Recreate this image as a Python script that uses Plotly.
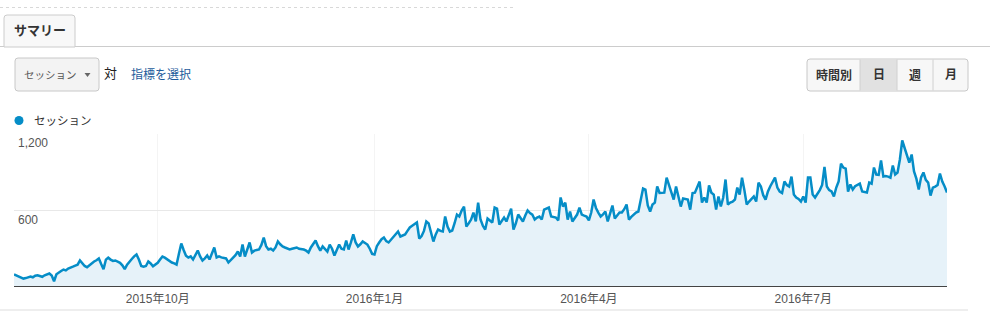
import pandas as pd
import plotly.graph_objects as go

# ---------------- data (daily sessions, 2015-08-01 .. 2016-08-31) ----------------
aug15 = [98, 90, 80, 72, 66, 70, 78, 82, 76, 88, 92, 85, 80, 92, 100, 106, 90, 45, 100, 115,
         125, 137, 130, 145, 150, 160, 168, 175, 208, 185, 165]
sep15 = [155, 170, 190, 200, 210, 224, 180, 140, 215, 230, 215, 205, 208, 200, 190, 170, 140, 175, 200, 220,
         240, 255, 215, 165, 160, 165, 200, 185, 162, 175]
oct15 = [190, 215, 239, 230, 215, 205, 192, 185, 176, 260, 341, 290, 245, 231, 240, 216, 250, 286, 240, 208,
         225, 247, 216, 265, 310, 231, 240, 232, 228, 224, 192]
nov15 = [215, 231, 250, 278, 240, 333, 239, 290, 349, 270, 285, 290, 294, 330, 388, 320, 294, 300, 286, 310,
         357, 335, 318, 310, 302, 295, 300, 305, 310, 300]
dec15 = [298, 294, 285, 270, 310, 341, 365, 320, 286, 318, 300, 278, 333, 300, 247, 290, 333, 300, 294, 365,
         294, 350, 412, 350, 318, 335, 357, 345, 333, 300, 260]
jan16 = [255, 320, 349, 375, 388, 360, 349, 370, 388, 410, 435, 396, 405, 412, 440, 467, 480, 495, 506, 380,
         400, 440, 514, 498, 420, 357, 412, 451, 440, 435, 553]
feb16 = [474, 435, 443, 500, 568, 553, 600, 631, 474, 500, 529, 584, 514, 662, 529, 480, 451, 537, 520, 506,
         623, 615, 490, 520, 545, 514, 570, 615, 451]
mar16 = [500, 568, 540, 514, 560, 600, 580, 568, 529, 545, 553, 529, 607, 615, 623, 553, 550, 545, 522, 702,
         631, 662, 529, 592, 514, 545, 568, 623, 568, 560, 553]
apr16 = [522, 584, 686, 620, 584, 553, 570, 592, 514, 580, 639, 537, 560, 584, 584, 610, 647, 529, 550, 570,
         584, 592, 680, 772, 764, 640, 592, 647, 662, 788]
may16 = [737, 738, 740, 858, 800, 740, 686, 788, 700, 631, 694, 690, 686, 607, 737, 740, 780, 827, 662, 702,
         662, 796, 740, 725, 607, 710, 631, 700, 843, 647, 662]
jun16 = [670, 686, 780, 725, 858, 760, 647, 670, 690, 710, 670, 819, 788, 720, 686, 749, 790, 830, 858, 780,
         749, 737, 827, 800, 788, 866, 725, 702, 690, 670]
jul16 = [710, 662, 858, 858, 725, 702, 730, 760, 800, 941, 788, 760, 749, 710, 780, 827, 968, 937, 929, 749,
         804, 765, 790, 804, 811, 749, 745, 741, 819, 811, 937]
aug16 = [882, 880, 992, 866, 870, 866, 858, 953, 882, 898, 1000, 1149, 1094, 1024, 976, 1039, 906, 850, 765, 860,
         898, 840, 819, 717, 780, 788, 800, 890, 827, 788, 741]

sessions = aug15 + sep15 + oct15 + nov15 + dec15 + jan16 + feb16 + mar16 + apr16 + may16 + jun16 + jul16 + aug16
dates = pd.date_range("2015-08-01", periods=len(sessions), freq="D")

series_name = "セッション"
tick_dates = ["2015-10-01", "2016-01-01", "2016-04-01", "2016-07-01"]
tick_labels = ["2015年10月", "2016年1月", "2016年4月", "2016年7月"]
y_ticks = [600, 1200]
y_tick_labels = ["600", "1,200"]
y_max = 1200
buttons = ["時間別", "日", "週", "月"]

# ---------------- geometry helpers ----------------
W, H = 990, 311
L, R, T, B = 14, 43, 134, 24
PW = W - L - R
PH = H - T - B


def px(x):
    return (x - L) / PW


def py(y):
    return (H - B - y) / PH


def rrect(x0, y0, x1, y1, r, top_only=False):
    br = 0 if top_only else r
    p = f"M {px(x0)},{py(y0 + r)} "
    p += f"Q {px(x0)},{py(y0)} {px(x0 + r)},{py(y0)} "
    p += f"L {px(x1 - r)},{py(y0)} "
    p += f"Q {px(x1)},{py(y0)} {px(x1)},{py(y0 + r)} "
    p += f"L {px(x1)},{py(y1 - br)} "
    if br:
        p += f"Q {px(x1)},{py(y1)} {px(x1 - br)},{py(y1)} "
        p += f"L {px(x0 + br)},{py(y1)} "
        p += f"Q {px(x0)},{py(y1)} {px(x0)},{py(y1 - br)} Z"
    else:
        p += f"L {px(x0)},{py(y1)} Z"
    return p


FONT = "Liberation Sans, Arial, Noto Sans CJK JP, sans-serif"
BLUE = "#058dc7"

fig = go.Figure()
fig.add_trace(go.Scatter(
    x=dates, y=sessions, mode="lines", name=series_name,
    line=dict(color=BLUE, width=2.5),
    fill="tozeroy", fillcolor="#e6f2f9", showlegend=False,
    hoverinfo="skip",
))

shapes = []
annotations = []


def label(x, y, text, size, color, xanchor="left", bold=False):
    annotations.append(dict(xref="paper", yref="paper", x=px(x), y=py(y), xanchor=xanchor, yanchor="middle",
                            text=f"<b>{text}</b>" if bold else text, showarrow=False,
                            font=dict(family=FONT, size=size, color=color)))


# top dashed rule
shapes.append(dict(type="line", xref="paper", yref="paper", x0=px(0), x1=px(515), y0=py(7.5), y1=py(7.5),
                   line=dict(color="#d8d8d8", width=1, dash="dot")))
# tab
shapes.append(dict(type="line", xref="paper", yref="paper", x0=px(0), x1=px(990), y0=py(46.5), y1=py(46.5),
                   line=dict(color="#cccccc", width=1)))
shapes.append(dict(type="path", xref="paper", yref="paper", path=rrect(4, 15, 75, 47, 3, top_only=True),
                   fillcolor="#f8f8f8", line=dict(color="#cccccc", width=1)))
label(40, 31, "サマリー", 13, "#333333", xanchor="center", bold=True)

# dropdown
shapes.append(dict(type="path", xref="paper", yref="paper", path=rrect(15, 58, 99, 91, 3),
                   fillcolor="#f3f3f3", line=dict(color="#c8c8c8", width=1)))
shapes.append(dict(type="path", xref="paper", yref="paper",
                   path=f"M {px(84.5)},{py(73)} L {px(90.5)},{py(73)} L {px(87.5)},{py(77)} Z",
                   fillcolor="#666666", line=dict(width=0)))
label(22, 74.5, "セッション", 10.5, "#555555")
label(102, 73.5, "対", 13, "#222222")
label(129, 74.5, "指標を選択", 12, "#1d5b9b")

# button group
bx = [807, 860, 897, 933, 968]
shapes.append(dict(type="path", xref="paper", yref="paper", path=rrect(bx[0], 59, bx[-1], 91, 3),
                   fillcolor="#f7f7f7", line=dict(color="#c8c8c8", width=1)))
shapes.append(dict(type="rect", xref="paper", yref="paper", x0=px(bx[1]), x1=px(bx[2]), y0=py(90.5), y1=py(59.5),
                   fillcolor="#e1e1e1", line=dict(width=0)))
for xd in bx[1:-1]:
    shapes.append(dict(type="line", xref="paper", yref="paper", x0=px(xd), x1=px(xd), y0=py(59.5), y1=py(90.5),
                       line=dict(color="#d0d0d0", width=1)))
for i, lab in enumerate(buttons):
    label((bx[i] + bx[i + 1]) / 2, 75, lab, 12, "#333333", xanchor="center", bold=True)

# legend
shapes.append(dict(type="circle", xref="paper", yref="paper", x0=px(14.5), x1=px(23.5), y0=py(125), y1=py(116),
                   fillcolor=BLUE, line=dict(width=0)))
label(32, 120.5, series_name, 11.5, "#333333")

# baseline and bottom rule
shapes.append(dict(type="line", xref="paper", yref="y", x0=0, x1=1, y0=0, y1=0,
                   line=dict(color="#444444", width=2), layer="above"))
shapes.append(dict(type="line", xref="paper", yref="paper", x0=px(0), x1=px(968), y0=py(310), y1=py(310),
                   line=dict(color="#dddddd", width=1)))

# y tick labels inside plot
for v, lab in zip(y_ticks, y_tick_labels):
    annotations.append(dict(xref="paper", yref="y", x=px(16), y=v, xanchor="left", yanchor="middle",
                            yshift=-9, text=lab, showarrow=False,
                            font=dict(family=FONT, size=12, color="#555555")))

fig.update_layout(
    width=W, height=H,
    margin=dict(l=L, r=R, t=T, b=B, pad=0, autoexpand=False),
    paper_bgcolor="white", plot_bgcolor="white",
    showlegend=False,
    shapes=shapes, annotations=annotations,
    xaxis=dict(range=[dates[0], dates[-1]], tickvals=tick_dates, ticktext=tick_labels,
               showgrid=True, gridcolor="#f4f4f4", zeroline=False, showline=False, ticks="",
               ticklabelstandoff=3,
               tickfont=dict(family=FONT, size=12, color="#555555"), fixedrange=True, automargin=False),
    yaxis=dict(range=[0, y_max], tickvals=y_ticks, showticklabels=False, showgrid=True,
               gridcolor="#e8e8e8", zeroline=False, showline=False, ticks="", fixedrange=True,
               automargin=False),
)

fig.write_html("out.html", config={"displayModeBar": False})
